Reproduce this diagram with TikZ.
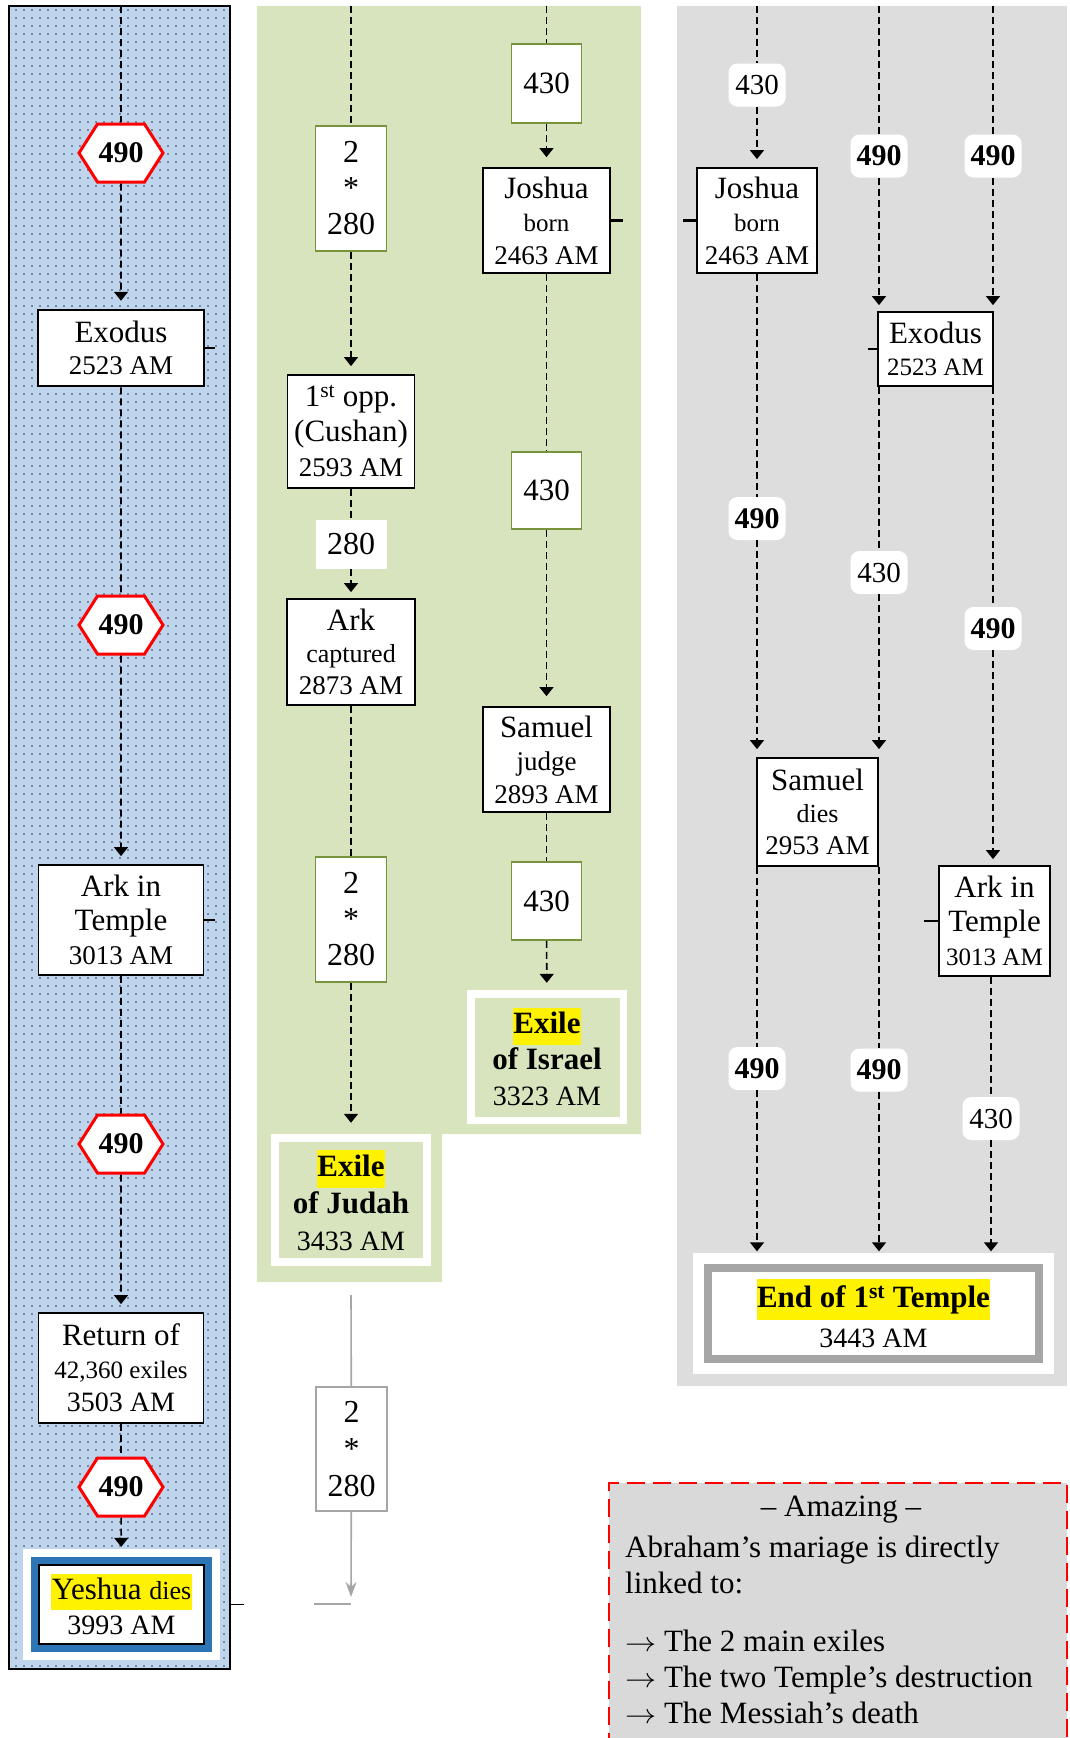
\documentclass[tikz,border=0pt]{standalone}
\usepackage{fontspec}
\setmainfont{Liberation Serif}
\usetikzlibrary{arrows.meta,shapes.symbols,patterns.meta}
\definecolor{bluebg}{RGB}{190,213,237}
\definecolor{dotc}{RGB}{50,60,80}
\definecolor{blueband}{RGB}{46,117,182}
\definecolor{greenbg}{RGB}{215,228,189}
\definecolor{greenbd}{RGB}{119,147,60}
\definecolor{greybg}{RGB}{221,221,221}
\definecolor{grayband}{RGB}{166,166,166}
\definecolor{amazebg}{RGB}{217,217,217}
\definecolor{hired}{RGB}{255,0,0}
\newcommand\fsz[2]{\fontsize{#1}{#2}\selectfont}
\newcommand\hili[1]{{\setlength{\fboxsep}{0.5pt}\colorbox{yellow}{\strut #1}}}
\newcommand\bigarr{\scalebox{1.25}[1.1]{$\rightarrow$}}
\begin{document}
\begin{tikzpicture}[x=1pt,y=-1pt,
  evt/.style={draw=black, line width=1.8pt, fill=white, inner sep=0pt, align=center},
  nbox/.style={draw=greenbd, line width=1.6pt, fill=white, inner sep=0pt, align=center},
  gbox/.style={draw=grayband, line width=1.8pt, fill=white, inner sep=0pt, align=center},
  hexn/.style={shape=signal, signal to=east and west, signal pointer angle=115, draw=hired, line width=3pt, fill=white, minimum width=84pt, minimum height=58pt, inner sep=0pt, font=\bfseries\fsz{30}{32}},
  glab/.style={fill=white, rounded corners=9pt, minimum width=57pt, minimum height=43pt, inner sep=0pt, font=\fsz{29}{32}},
  glabb/.style={glab, font=\bfseries\fsz{30}{32}},
  dl/.style={draw=black, line width=1.6pt, dash pattern=on 7pt off 4pt},
  arr/.style={dl, -{Triangle[width=14pt,length=9pt]}, shorten >=8pt},
  tick/.style={draw=black, line width=2.2pt},
  gline/.style={draw=grayband, line width=1.6pt},
]
\useasboundingbox (0,0) rectangle (1070,1738);

% ---------- backgrounds ----------
\node[draw=black, line width=1.5pt, preaction={fill=bluebg}, pattern={Dots[distance=8pt, radius=0.9pt]}, pattern color=dotc, minimum width=221pt, minimum height=1663pt, inner sep=0pt] (bluecol) at (119.5,837.5) {};
\fill[greenbg] (257,6) -- (641,6) -- (641,1134) -- (442,1134) -- (442,1282) -- (257,1282) -- cycle;
\fill[greybg] (677,6) rectangle (1067,1386);

% ---------- blue column ----------
\coordinate (topB) at (121,6);
\node[hexn] (h1) at (121,153) {490};
\node[evt, line width=2.5pt, minimum width=166pt, minimum height=76pt, font=\fsz{31}{32}] (exB) at (121,348) {Exodus\\\fsz{27}{32}2523 AM};
\node[hexn] (h2) at (121,625) {490};
\node[evt, minimum width=165pt, minimum height=110pt, font=\fsz{31}{34}] (arkB) at (121,920) {Ark in\\Temple\\\fsz{27}{34}3013 AM};
\node[hexn] (h3) at (121,1144) {490};
\node[evt, minimum width=165pt, minimum height=110pt, font=\fsz{31}{33}] (retB) at (121,1368) {Return of\\\fsz{25}{33}42,360 exiles\\\fsz{28}{33}3503 AM};
\node[hexn] (h4) at (121,1487) {490};
\node[fill=white, minimum width=197pt, minimum height=111pt, inner sep=0pt, align=center, font=\fsz{31}{35},
  path picture={
    \fill[blueband] ([shift={(8,8)}]path picture bounding box.north west) rectangle ([shift={(-8,-8)}]path picture bounding box.south east);
    \filldraw[fill=white, draw=black, line width=1.8pt] ([shift={(16,16)}]path picture bounding box.north west) rectangle ([shift={(-16,-16)}]path picture bounding box.south east);
  }] (yeshua) at (121.5,1604.5) {\hili{Yeshua {\fsz{26}{35}dies}}\\\fsz{28}{35}3993 AM};

\draw[dl] (topB) -- (h1);
\draw[arr] (h1) -- (exB);
\draw[dl] (exB) -- (h2);
\draw[arr] (h2) -- (arkB);
\draw[dl] (arkB) -- (h3);
\draw[arr] (h3) -- (retB);
\draw[dl] (retB) -- (h4);
\draw[arr, shorten >=2pt] (h4) -- (yeshua);
\draw[tick] (exB.east) -- ++(10,0);
\draw[tick] (arkB.east) -- ++(11,0);
\draw[draw=black, line width=1.8pt] (bluecol.east |- yeshua) -- ++(13,0);

% ---------- green column ----------
\coordinate (topG1) at (351,6);
\coordinate (topG2) at (546.5,6);
\node[nbox, minimum width=71pt, minimum height=125pt, font=\fsz{32}{36}] (g1) at (351,188.5) {2\\*\\280};
\node[evt, minimum width=127pt, minimum height=113pt, font=\fsz{31}{35}] (opp) at (351,431.5) {1\textsuperscript{st} opp.\\(Cushan)\\\fsz{27}{35}2593 AM};
\node[fill=white, minimum width=71pt, minimum height=49pt, inner sep=0pt, font=\fsz{32}{36}] (l280) at (351,544.5) {280};
\node[evt, minimum width=128pt, minimum height=106pt, font=\fsz{31}{32}] (arkc) at (351,652) {Ark\\\fsz{26}{32}captured\\\fsz{27}{32}2873 AM};
\node[nbox, minimum width=71pt, minimum height=125pt, font=\fsz{32}{36}] (g2) at (351,919.5) {2\\*\\280};
\node[fill=white, minimum width=160pt, minimum height=132pt, inner sep=0pt, align=center, font=\bfseries\fsz{31}{37},
  path picture={
    \fill[greenbg] ([shift={(8,8)}]path picture bounding box.north west) rectangle ([shift={(-8,-8)}]path picture bounding box.south east);
  }] (judah) at (351,1200) {\hili{Exile}\\of Judah\\\mdseries\fsz{28}{37}3433 AM};

\node[nbox, minimum width=70pt, minimum height=79pt, font=\fsz{31}{34}] (t1) at (546.5,83.5) {430};
\node[evt, minimum width=127pt, minimum height=105pt, font=\fsz{31}{33}] (josh1) at (546.5,220.5) {Joshua\\\fsz{25}{33}born\\\fsz{27}{33}2463 AM};
\node[nbox, minimum width=70pt, minimum height=77pt, font=\fsz{31}{34}] (t2) at (546.5,490.5) {430};
\node[evt, minimum width=127pt, minimum height=105pt, font=\fsz{31}{33}] (samj) at (546.5,759.5) {Samuel\\\fsz{27}{33}judge\\\fsz{27}{33}2893 AM};
\node[nbox, minimum width=70pt, minimum height=78pt, font=\fsz{31}{34}] (t3) at (546.5,901) {430};
\node[fill=white, minimum width=160pt, minimum height=134pt, inner sep=0pt, align=center, font=\bfseries\fsz{31}{36},
  path picture={
    \fill[greenbg] ([shift={(7.5,7.5)}]path picture bounding box.north west) rectangle ([shift={(-7.5,-7.5)}]path picture bounding box.south east);
  }] (israel) at (547,1057) {\hili{Exile}\\of Israel\\\mdseries\fsz{28}{36}3323 AM};

\draw[dl] (topG1) -- (g1);
\draw[arr] (g1) -- (opp);
\draw[dl] (opp) -- (l280);
\draw[arr, shorten >=6pt] (l280) -- (arkc);
\draw[dl] (arkc) -- (g2);
\draw[arr, shorten >=11pt] (g2) -- (judah);
\draw[dl] (topG2) -- (t1);
\draw[arr, shorten >=10pt] (t1) -- (josh1);
\draw[dl] (josh1) -- (t2);
\draw[arr, shorten >=10pt] (t2) -- (samj);
\draw[dl] (samj) -- (t3);
\draw[arr, shorten >=7pt] (t3) -- (israel);
\draw[tick] (josh1.east) -- ++(12,0);

% ---------- below green ----------
\coordinate (gtop) at (351,1295);
\node[gbox, minimum width=71pt, minimum height=124pt, font=\fsz{32}{37}] (g3) at (351.5,1449) {2\\*\\280};
\coordinate (gend) at (351,1597);
\coordinate (gh1) at (314,1604);
\coordinate (gh2) at (351,1604);
\draw[gline] (gtop) -- (g3);
\draw[gline, -{Stealth[width=11pt,length=15pt]}] (g3) -- (gend);
\draw[gline] (gh1) -- (gh2);

% ---------- grey column ----------
\coordinate (topA) at (757,6);
\coordinate (topBB) at (879,6);
\coordinate (topC) at (993,6);
\node[glab] (gA430) at (757,85) {430};
\node[evt, minimum width=120pt, minimum height=105pt, font=\fsz{31}{33}] (joshG) at (757,220.5) {Joshua\\\fsz{25}{33}born\\\fsz{27}{33}2463 AM};
\node[glabb] (gA490a) at (757,518.5) {490};
\node[evt, minimum width=121pt, minimum height=108pt, font=\fsz{31}{32}] (samd) at (817.5,812) {Samuel\\\fsz{26}{32}dies\\\fsz{27}{32}2953 AM};
\node[glabb] (gA490b) at (757,1068.5) {490};

\node[glabb] (gB490a) at (879,156) {490};
\node[evt, minimum width=115pt, minimum height=74pt, font=\fsz{31}{32}] (exG) at (935.5,349) {Exodus\\\fsz{25}{32}2523 AM};
\node[glab] (gB430) at (879,572.5) {430};
\node[glabb] (gB490b) at (879,1070) {490};

\node[glabb] (gC490a) at (993,156) {490};
\node[glabb] (gC490b) at (993,628.5) {490};
\node[evt, minimum width=111pt, minimum height=110pt, font=\fsz{31}{34}] (arkG) at (994.5,921) {Ark in\\Temple\\\fsz{25}{34}3013 AM};
\node[glab] (gC430) at (991,1118.5) {430};

\node[fill=white, minimum width=361pt, minimum height=121pt, inner sep=0pt, align=center, font=\bfseries\fsz{31}{40},
  path picture={
    \fill[grayband] ([shift={(11,11)}]path picture bounding box.north west) rectangle ([shift={(-11,-11)}]path picture bounding box.south east);
    \fill[white] ([shift={(19,19)}]path picture bounding box.north west) rectangle ([shift={(-19,-19)}]path picture bounding box.south east);
  }] (endT) at (873.5,1313) {\hili{End of 1\textsuperscript{st} Temple}\\\mdseries\fsz{28}{40}3443 AM};

\draw[dl] (topA) -- (gA430);
\draw[arr] (gA430) -- (joshG);
\draw[dl] (joshG) -- (gA490a);
\draw[arr] (gA490a) -- (gA490a |- samd.north);
\draw[dl] (gA490b |- samd.south) -- (gA490b);
\draw[arr, shorten >=1pt] (gA490b) -- (gA490b |- endT.north);
\draw[dl] (topBB) -- (gB490a);
\draw[arr, shorten >=6pt] (gB490a) -- (gB490a |- exG.north);
\draw[dl] (gB430 |- exG.south) -- (gB430);
\draw[arr] (gB430) -- (gB430 |- samd.north);
\draw[dl] (gB490b |- samd.south) -- (gB490b);
\draw[arr, shorten >=1pt] (gB490b) -- (gB490b |- endT.north);
\draw[dl] (topC) -- (gC490a);
\draw[arr, shorten >=6pt] (gC490a) -- (gC490a |- exG.north);
\draw[dl] (gC490b |- exG.south) -- (gC490b);
\draw[arr, shorten >=6pt] (gC490b) -- (gC490b |- arkG.north);
\draw[dl] (gC430 |- arkG.south) -- (gC430);
\draw[arr, shorten >=1pt] (gC430) -- (gC430 |- endT.north);
\draw[tick] (joshG.west) -- ++(-13,0);
\draw[tick] (exG.west) -- ++(-9,0);
\draw[tick] (arkG.west) -- ++(-14,0);

% ---------- amazing box ----------
\node[draw=hired, line width=2.2pt, dash pattern=on 18pt off 8pt, fill=amazebg, minimum width=458pt, minimum height=290pt, inner sep=0pt, anchor=north west] (amaze) at (608,1482) {};
\node[font=\fsz{31}{36}, inner sep=0pt] (amt) at (841,1510) {– Amazing –};
\node[font=\fsz{31}{36}, inner sep=0pt, align=left, anchor=north west] (amb) at (625,1536) {Abraham’s mariage is directly\\linked to:\\[22pt]\bigarr{} The 2 main exiles\\\bigarr{} The two Temple’s destruction\\\bigarr{} The Messiah’s death};
\end{tikzpicture}
\end{document}
